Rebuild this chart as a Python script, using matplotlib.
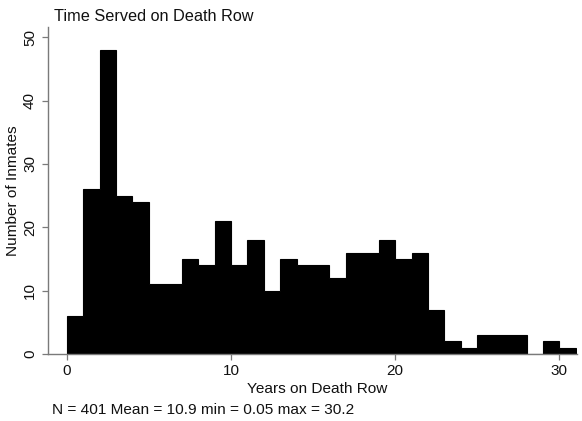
import matplotlib
matplotlib.use("Agg")
import matplotlib.pyplot as plt
import numpy as np

# Histogram of years served on death row (one-year bins)
bin_edges = list(range(0, 32))
counts = [6, 26, 48, 25, 24, 11, 11, 15, 14, 21,
          14, 18, 10, 15, 14, 14, 12, 16, 16, 18,
          15, 16, 7, 2, 1, 3, 3, 3, 0, 2, 1]
x_ticks = [0, 10, 20, 30]
y_ticks = [0, 10, 20, 30, 40, 50]

title = "Time Served on Death Row"
x_label = "Years on Death Row"
y_label = "Number of Inmates"
note = "N = 401 Mean = 10.9 min = 0.05 max = 30.2"

plt.rcParams["font.family"] = ["Liberation Sans", "DejaVu Sans"]

W, H = 582, 421
fig = plt.figure(figsize=(W / 100, H / 100), dpi=100)
ax = fig.add_axes([47.5 / W, 1 - 354 / H, (576.5 - 47.5) / W, (354 - 27) / H])

# Filled step outline so adjacent bars merge without seams
ax.stairs(np.array(counts, dtype=float), np.array(bin_edges, dtype=float),
          fill=True, facecolor="black", edgecolor="black", linewidth=0.8,
          baseline=0)

ax.set_xlim(-1.17, 31.04)
ax.set_ylim(0, 51.6)
ax.set_xticks(x_ticks)
ax.set_yticks(y_ticks)

axis_gray = "#7a7a7a"
for side in ("top", "right"):
    ax.spines[side].set_visible(False)
for side in ("left", "bottom"):
    ax.spines[side].set_color(axis_gray)
    ax.spines[side].set_linewidth(1.0)
    ax.spines[side].set_zorder(3)
ax.tick_params(axis="both", colors=axis_gray, labelcolor="#111111",
               length=4.5, width=0.9, labelsize=11, pad=3)
for lbl in ax.get_yticklabels():
    lbl.set_rotation(90)
    lbl.set_va("center")

text_color = "#111111"
fig.text(54 / W, 1 - 21 / H, title, fontsize=11.7, color=text_color,
         ha="left", va="baseline")
fig.text(317 / W, 1 - 393 / H, x_label, fontsize=11.1, color=text_color,
         ha="center", va="baseline")
fig.text(13.5 / W, 1 - 191 / H, y_label, fontsize=11.1, color=text_color,
         rotation=90, ha="center", va="center")
fig.text(52 / W, 1 - 414 / H, note, fontsize=11.1, color=text_color,
         ha="left", va="baseline")

fig.savefig("out.png", dpi=100, facecolor="white")
